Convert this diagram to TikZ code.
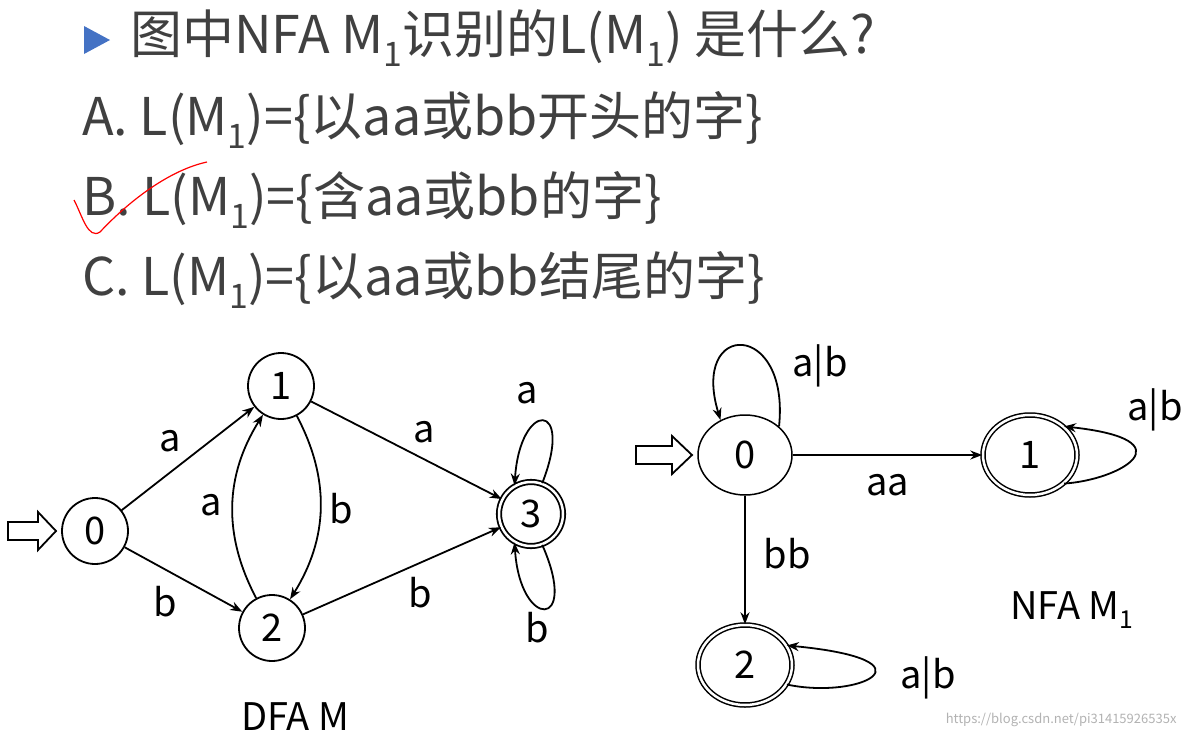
\documentclass[tikz,border=0pt]{standalone}
\usepackage{fontspec}
\setmainfont{Noto Sans CJK SC}
\usetikzlibrary{arrows.meta,shapes.geometric}
\newcommand\mysub[1]{\raisebox{-0.25em}{\scalebox{0.65}{#1}}}
\definecolor{tri}{HTML}{4472C4}
\begin{document}
\begin{tikzpicture}[x=1pt,y=-1pt,
  txt/.style={text=black!75,font=\fontsize{52}{60}\selectfont,anchor=west,inner sep=0},
  lbl/.style={font=\fontsize{38}{44}\selectfont,inner sep=0},
  st/.style={draw,circle,minimum size=66,inner sep=0,font=\fontsize{38}{44}\selectfont,line width=1.8},
  acc/.style={st,double,double distance=2.5},
  el/.style={draw,ellipse,minimum width=94,minimum height=80,inner sep=0,font=\fontsize{38}{44}\selectfont,line width=1.5},
  eacc/.style={el,double,double distance=2.5},
  ed/.style={-{Stealth[length=12,width=9]},line width=1.8},
  hollow/.style={draw,line width=1.8,fill=white}]
\useasboundingbox (0,0) rectangle (1186,739);
\fill[tri] (84,26) -- (110,40) -- (84,54) -- cycle;
\node[txt] (t0) at (130,38) {图中NFA M\mysub{1}识别的L(M\mysub{1}) 是什么?};
\node[txt] (tA) at (82,120) {A. L(M\mysub{1})=\{以aa或bb开头的字\}};
\node[txt] (tB) at (82,200) {B. L(M\mysub{1})=\{含aa或bb的字\}};
\node[txt] (tC) at (82,280) {C. L(M\mysub{1})=\{以aa或bb结尾的字\}};
\draw[red,line width=1.2] (74,200) .. controls (82,215) and (88,240) .. (100,232) .. controls (130,200) and (170,170) .. (207,162);
% DFA
\node[st] (d0) at (95,531) {0};
\node[st] (d1) at (281,386) {1};
\node[st] (d2) at (272,628) {2};
\node[acc,minimum size=64] (d3) at (531,514) {3};
\draw[hollow] (8,522)--(38,522)--(38,512)--(56,531)--(38,550)--(38,540)--(8,540)--cycle;
\draw[ed] (d0) -- node[lbl,above left=6] {a} (d1);
\draw[ed] (d0) -- node[lbl,below left=6] {b} (d2);
\draw[ed] (d1) -- node[lbl,above right=6] {a} (d3);
\draw[ed] (d2) -- node[lbl,below right=6] {b} (d3);
\draw[ed] (d1) to[bend left=30] node[lbl,right=8] {b} (d2);
\draw[ed] (d2) to[bend left=30] node[lbl,left=10] {a} (d1);
\draw[ed] (d3.70) .. controls (575,400) and (520,400) .. (d3.120);
\node[lbl] (la3) at (527,393) {a};
\draw[ed] (d3.-70) .. controls (580,630) and (520,630) .. (d3.-120);
\node[lbl] (lb3) at (537,628) {b};
\node[lbl] (dfa) at (295,717) {DFA M};
% NFA
\node[el] (n0) at (745,455) {0};
\node[eacc] (n1) at (1030,455) {1};
\node[eacc] (n2) at (745,665) {2};
\draw[hollow] (636,446)--(672,446)--(672,436)--(692,455)--(672,474)--(672,464)--(636,464)--cycle;
\draw[ed] (n0) -- node[lbl,below=18] {aa} (n1);
\draw[ed] (n0) -- node[lbl,right=18,pos=0.45] {bb} (n2);
\draw[ed] (n0.40) .. controls (790,320) and (690,320) .. (n0.125);
\node[lbl] (l0) at (820,366) {a|b};
\draw[ed] (n1.-40) .. controls (1120,480) and (1190,440) .. (n1.40);
\node[lbl] (l1) at (1155,410) {a|b};
\draw[ed] (n2.-25) .. controls (860,700) and (940,660) .. (n2.25);
\node[lbl] (l2) at (928,678) {a|b};
\node[lbl] (nfa) at (1072,610) {NFA M\mysub{1}};
\node[font=\fontsize{13}{15}\selectfont,text=black!30,anchor=east] (wm) at (1180,720) {https://blog.csdn.net/pi31415926535x};
\end{tikzpicture}
\end{document}
